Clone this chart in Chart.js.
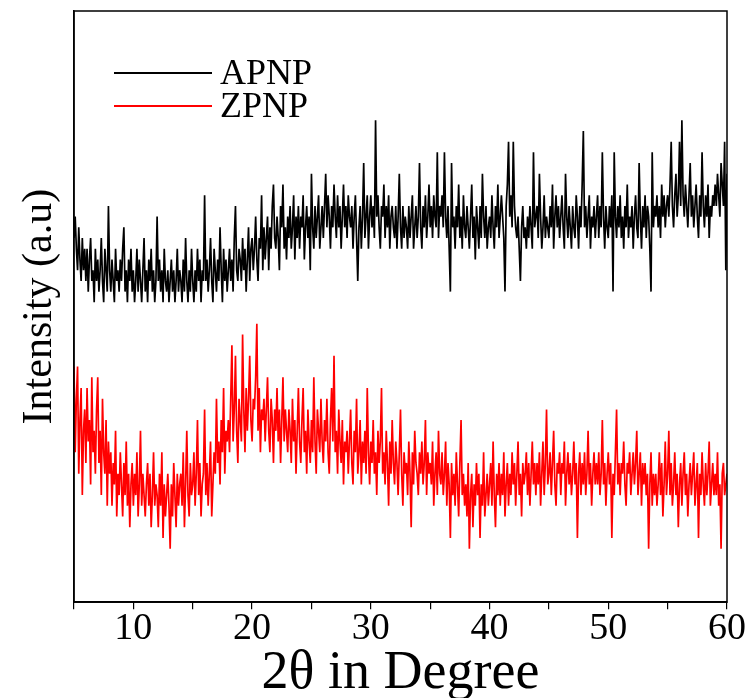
<!DOCTYPE html>
<html>
<head>
<meta charset="utf-8">
<script src="https://cdn.jsdelivr.net/npm/chart.js@4.4.1/dist/chart.umd.min.js"></script>
<style>
  html, body { margin: 0; padding: 0; background: #fff; }
  #wrap { width: 752px; height: 698px; }
</style>
</head>
<body>
<div id="wrap"><canvas id="xrd"></canvas></div>
<script>
// 2θ scan: start and step (degrees)
const twoThetaStart = 5.0;
const twoThetaStep = 0.1;

// APNP intensity (counts, one line = one degree)
const apnp = [
  34, 36, 33, 31, 35, 32, 30, 34, 31, 33,
  30, 33, 29, 32, 34, 30, 31, 28, 33, 30,
  32, 29, 31, 34, 30, 28, 33, 31, 29, 37,
  31, 29, 32, 30, 28, 33, 30, 31, 29, 32,
  30, 33, 35, 29, 31, 28, 32, 30, 33, 29,
  31, 28, 30, 33, 29, 32, 30, 28, 31, 34,
  29, 31, 28, 32, 30, 33, 29, 31, 28, 30,
  36, 30, 32, 29, 31, 28, 33, 30, 29, 31,
  28, 30, 32, 29, 31, 28, 30, 33, 29, 31,
  30, 28, 32, 29, 34, 30, 28, 31, 29, 33,
  30, 28, 31, 29, 33, 30, 32, 28, 31, 30,
  38, 30, 32, 29, 31, 34, 30, 28, 33, 31,
  29, 32, 30, 35, 31, 28, 33, 30, 32, 29,
  31, 33, 30, 32, 29, 34, 37, 31, 30, 33,
  32, 30, 34, 31, 33, 29, 32, 35, 30, 33,
  34, 31, 33, 36, 32, 30, 34, 33, 38, 31,
  35, 32, 34, 36, 31, 35, 33, 37, 39, 34,
  33, 36, 34, 31, 37, 35, 39, 33, 35, 32,
  36, 34, 37, 33, 35, 38, 32, 36, 34, 37,
  33, 36, 35, 38, 32, 35, 37, 34, 36, 31,
  40, 35, 33, 37, 34, 36, 38, 33, 35, 37,
  34, 37, 40, 35, 38, 36, 33, 37, 35, 39,
  36, 34, 38, 35, 37, 33, 36, 39, 35, 37,
  34, 38, 36, 35, 37, 33, 36, 38, 34, 30,
  35, 37, 33, 36, 41, 34, 36, 38, 33, 36,
  38, 35, 37, 34, 45, 36, 38, 35, 33, 37,
  36, 39, 34, 37, 35, 38, 33, 36, 37, 35,
  34, 37, 33, 36, 40, 35, 33, 37, 34, 36,
  35, 33, 37, 34, 36, 38, 33, 35, 37, 34,
  36, 41, 35, 33, 37, 35, 38, 34, 36, 39,
  35, 37, 34, 38, 36, 35, 42, 34, 37, 36,
  38, 35, 42, 36, 34, 37, 33, 29, 41, 35,
  36, 33, 37, 35, 39, 34, 36, 33, 38, 35,
  34, 37, 35, 33, 36, 39, 34, 36, 32, 37,
  35, 33, 37, 34, 40, 36, 34, 37, 33, 35,
  36, 34, 38, 35, 33, 37, 35, 39, 34, 36,
  38, 36, 34, 29, 37, 39, 43, 36, 38, 35,
  43, 37, 35, 34, 36, 33, 30, 35, 37, 34,
  35, 33, 36, 34, 37, 35, 33, 42, 35, 36,
  37, 34, 40, 36, 33, 35, 38, 34, 36, 35,
  34, 37, 35, 39, 33, 36, 38, 35, 37, 34,
  36, 38, 35, 33, 40, 36, 34, 37, 35, 33,
  37, 35, 34, 38, 36, 33, 37, 35, 39, 44,
  35, 37, 34, 36, 38, 33, 36, 35, 37, 34,
  36, 38, 34, 37, 35, 42, 36, 33, 37, 35,
  34, 37, 35, 38, 29, 42, 36, 34, 37, 35,
  38, 34, 36, 33, 37, 35, 39, 34, 36, 35,
  37, 33, 36, 38, 35, 34, 41, 36, 33, 37,
  35, 38, 34, 37, 36, 33, 29, 42, 35, 37,
  36, 38, 35, 37, 34, 39, 36, 38, 35, 37,
  38, 36, 39, 43, 37, 35, 38, 40, 36, 38,
  43, 37, 45, 38, 36, 39, 37, 35, 38, 41,
  36, 38, 35, 37, 39, 36, 34, 38, 36, 42,
  37, 35, 38, 36, 39, 34, 37, 36, 38, 37,
  39, 37, 40, 38, 36, 41, 39, 37, 43, 31,
  40
];

// ZPNP intensity (counts, one line = one degree)
const zpnp = [
  22, 14, 19, 22, 12, 17, 20, 10, 16, 18,
  13, 20, 15, 17, 11, 21, 14, 16, 12, 18,
  21, 13, 16, 10, 19, 14, 12, 17, 9, 15,
  12, 14, 9, 13, 11, 16, 8, 12, 10, 14,
  11, 8, 13, 10, 15, 9, 12, 7, 11, 13,
  9, 12, 10, 14, 8, 11, 16, 9, 12, 10,
  8, 11, 13, 9, 12, 7, 10, 14, 9, 11,
  10, 7, 12, 9, 14, 6, 11, 8, 10, 12,
  9, 5, 11, 8, 13, 10, 7, 12, 9, 11,
  12, 9, 14, 7, 11, 16, 10, 8, 13, 10,
  11, 14, 9, 12, 17, 10, 13, 8, 11, 12,
  18, 10, 13, 9, 12, 15, 8, 11, 14, 12,
  19, 13, 15, 11, 17, 14, 20, 12, 16, 15,
  17, 14, 19, 24, 15, 18, 23, 16, 13, 19,
  17, 15, 25, 18, 14, 20, 16, 19, 23, 17,
  15, 19, 18, 21, 26, 16, 20, 14, 18, 17,
  19, 15, 18, 21, 16, 14, 19, 17, 13, 18,
  16, 20, 15, 18, 13, 17, 21, 15, 18, 16,
  14, 18, 16, 13, 19, 15, 17, 12, 16, 20,
  15, 13, 17, 20, 14, 16, 12, 18, 15, 13,
  17, 14, 21, 15, 12, 18, 16, 14, 19, 15,
  13, 17, 15, 19, 14, 12, 17, 20, 15, 23,
  14, 16, 12, 18, 15, 13, 17, 11, 15, 14,
  16, 12, 15, 18, 13, 11, 16, 14, 19, 12,
  14, 17, 11, 15, 13, 16, 12, 20, 14, 11,
  15, 13, 17, 12, 14, 10, 16, 13, 15, 20,
  12, 14, 11, 16, 13, 9, 15, 12, 17, 13,
  11, 15, 13, 10, 14, 18, 12, 9, 14, 12,
  13, 10, 15, 12, 7, 14, 11, 16, 13, 12,
  10, 14, 12, 15, 11, 13, 17, 10, 14, 12,
  13, 11, 15, 9, 12, 14, 10, 16, 12, 11,
  14, 10, 12, 15, 9, 13, 11, 6, 13, 10,
  12, 9, 14, 11, 8, 13, 17, 10, 12, 9,
  11, 8, 13, 5, 10, 12, 7, 11, 9, 13,
  10, 12, 6, 11, 9, 14, 8, 10, 12, 9,
  11, 13, 9, 15, 10, 7, 12, 10, 13, 9,
  12, 10, 14, 8, 11, 13, 9, 12, 10, 14,
  11, 13, 9, 12, 15, 10, 12, 8, 13, 11,
  12, 14, 10, 13, 9, 12, 15, 11, 13, 10,
  13, 11, 14, 9, 12, 15, 10, 13, 18, 11,
  12, 14, 10, 13, 16, 11, 9, 13, 12, 14,
  10, 13, 12, 15, 9, 12, 14, 11, 13, 10,
  12, 15, 11, 13, 6, 12, 14, 10, 13, 11,
  14, 10, 12, 16, 11, 13, 9, 12, 14, 11,
  13, 11, 14, 10, 12, 17, 11, 13, 9, 12,
  14, 11, 13, 6, 12, 10, 14, 18, 11, 13,
  10, 13, 12, 15, 11, 9, 13, 12, 14, 10,
  12, 14, 11, 13, 16, 10, 12, 14, 9, 13,
  11, 13, 10, 12, 5, 11, 14, 9, 12, 10,
  12, 9, 11, 14, 10, 13, 8, 11, 15, 10,
  12, 16, 10, 13, 9, 11, 14, 10, 12, 7,
  11, 13, 9, 12, 14, 10, 12, 8, 11, 13,
  10, 12, 14, 9, 11, 13, 6, 12, 10, 14,
  11, 9, 13, 10, 12, 15, 9, 11, 13, 10,
  12, 10, 14, 9, 11, 5, 12, 13, 10, 11,
  12
];

const seriesNames = ["APNP", "ZPNP"];
const seriesColors = ["#000000", "#ff0000"];
const xTickLabels = [10, 20, 30, 40, 50, 60];

const toPoints = (arr) => arr.map((v, i) => ({ x: twoThetaStart + i * twoThetaStep, y: v }));

const serif = "'Liberation Serif', 'Times New Roman', serif";
Chart.defaults.font.family = serif;
Chart.defaults.color = "#000";

// frame around the plot + legend inside the top-left corner
const framePlugin = {
    id: 'frameAndLegend',
    afterDraw(chart) {
        const { ctx, chartArea: a } = chart;
        ctx.save();
        ctx.strokeStyle = '#000';
        ctx.lineWidth = 1.5;
        ctx.strokeRect(a.left, a.top, a.right - a.left, a.bottom - a.top);

        ctx.font = "36px " + serif;
        ctx.textBaseline = 'middle';
        ctx.textAlign = 'left';
        seriesNames.forEach((name, k) => {
            const y = a.top + 62 + k * 33;
            ctx.beginPath();
            ctx.strokeStyle = seriesColors[k];
            ctx.lineWidth = 2;
            ctx.moveTo(a.left + 40, y);
            ctx.lineTo(a.left + 138, y);
            ctx.stroke();
            ctx.fillStyle = '#000';
            ctx.fillText(name, a.left + 146, y + 2);
        });
        ctx.restore();
    }
};

new Chart(document.getElementById('xrd'), {
    type: 'line',
    data: {
        datasets: [
            { label: seriesNames[0], data: toPoints(apnp), borderColor: seriesColors[0] },
            { label: seriesNames[1], data: toPoints(zpnp), borderColor: seriesColors[1] }
        ]
    },
    options: {
        responsive: true,
        maintainAspectRatio: false,
        animation: false,
        elements: {
            point: { radius: 0 },
            line: { borderWidth: 1.7, tension: 0 }
        },
        layout: { padding: { left: 19, right: 25, top: 11, bottom: 0 } },
        plugins: {
            legend: { display: false },
            tooltip: { enabled: false }
        },
        scales: {
            x: {
                type: 'linear',
                min: 5,
                max: 60,
                grid: { display: true, drawOnChartArea: false, drawTicks: true, tickLength: 7, color: '#000', lineWidth: 1.2 },
                border: { display: true, color: '#000', width: 1.5 },
                ticks: {
                    stepSize: 5,
                    padding: 3,
                    font: { size: 38, lineHeight: 0.9 },
                    color: '#000',
                    maxRotation: 0,
                    autoSkip: false,
                    callback: (v) => xTickLabels.includes(v) ? String(v) : ''
                },
                title: { display: true, text: '2θ in Degree', font: { size: 54, lineHeight: 0.9 }, padding: { top: 0, bottom: 0 }, color: '#000' }
            },
            y: {
                type: 'linear',
                min: 0,
                max: 55.2,
                grid: { display: false, drawTicks: false },
                border: { display: true, color: '#000', width: 1.5 },
                ticks: { display: false },
                title: { display: true, text: 'Intensity (a.u)', font: { size: 42, lineHeight: 1 }, padding: { top: 0, bottom: 13 }, color: '#000' }
            }
        }
    },
    plugins: [framePlugin]
});
</script>
</body>
</html>
